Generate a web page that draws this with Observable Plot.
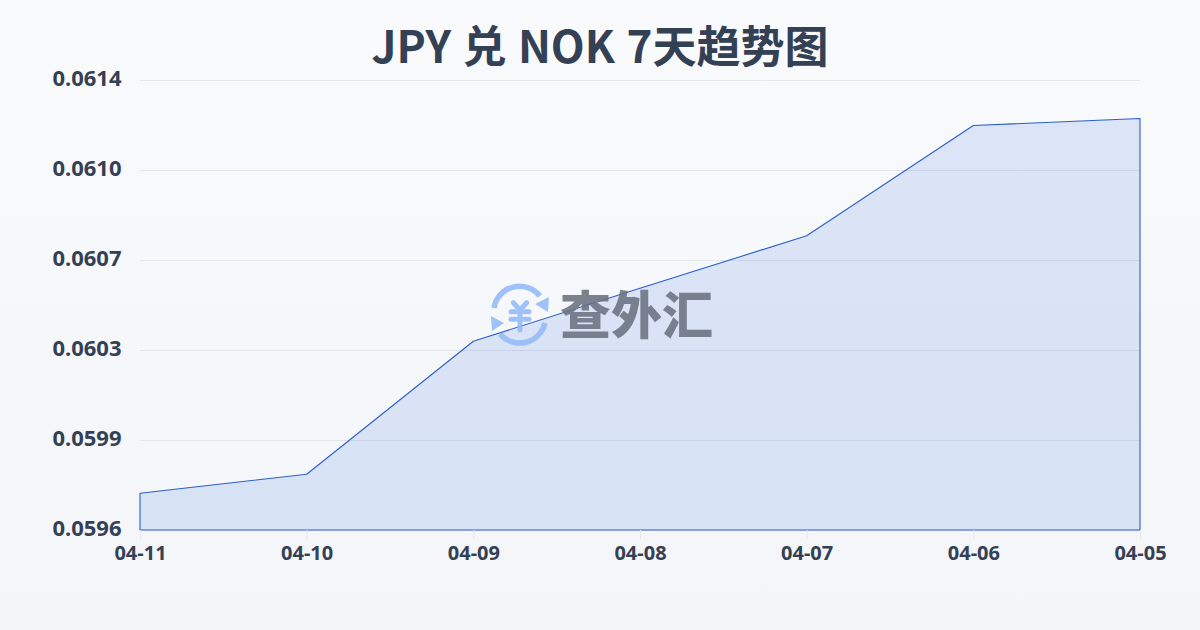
<!DOCTYPE html>
<html lang="zh">
<head>
<meta charset="utf-8">
<script src="https://cdn.jsdelivr.net/npm/d3@7"></script>
<script src="https://cdn.jsdelivr.net/npm/@observablehq/plot@0.6"></script>
<style>
html,body{margin:0;padding:0;width:1200px;height:630px;overflow:hidden}
body{background:linear-gradient(180deg,#f9fafc 0%,#f3f5f8 100%);position:relative;font-family:"Noto Sans","Noto Sans CJK SC",sans-serif}
h1{margin:0;height:60px;width:1200px;text-align:center;font-family:"Noto Sans CJK SC",sans-serif;font-size:44px;word-spacing:1.5px;line-height:88px;font-weight:700;color:#344054;position:absolute;top:0;left:0;z-index:2}
#wm{position:absolute;left:488px;top:282px;width:230px;height:70px;z-index:3;overflow:visible;opacity:.88}
#chart{position:absolute;left:0;top:60px;z-index:1}
#chart svg{background:transparent;display:block}
</style>
</head>
<body>
<h1>JPY 兑 NOK 7天趋势图</h1>
<svg id="wm" viewBox="0 0 230 70" xmlns="http://www.w3.org/2000/svg">
  <g fill="none" stroke="#93bbf7" stroke-width="5.5">
    <path d="M6 26 A26 26 0 0 1 52 14"/>
    <path d="M57 41 A26 26 0 0 1 12 52"/>
  </g>
  <g fill="#93bbf7">
    <path d="M60 30 L61 15 L47 22 Z"/>
    <path d="M3 34 L16 41 L4 49 Z"/>
  </g>
  <g fill="none" stroke="#93bbf7" stroke-width="5" stroke-linecap="round" stroke-linejoin="round">
    <path d="M25.3 20.7 L32 28 L38.7 20.7 M23 29.7 H41 M23 37.3 H41 M32 28 V48"/>
  </g>
  <text x="72" y="52" font-family="Noto Sans CJK SC" font-weight="900" font-size="51" fill="#6b7280">查外汇</text>
</svg>
<div id="chart"></div>
<script>
const dates = ["04-11","04-10","04-09","04-08","04-07","04-06","04-05"];
const rates = [0.059727,0.059803,0.060335,0.060547,0.060757,0.061198,0.061226];
const yTicks = [0.05958,0.05994,0.0603,0.06066,0.06102,0.06138];
const data = dates.map((d,i)=>({d,v:rates[i]}));
const textColor = "#344054";
const plot = Plot.plot({
  width:1200,height:570,
  marginLeft:140,marginRight:60,marginTop:20,marginBottom:100,
  style:{background:"transparent",fontFamily:'"Noto Sans","Noto Sans CJK SC",sans-serif'},
  x:{type:"point",domain:dates,padding:0,round:false,label:null},
  y:{domain:[yTicks[0],yTicks[yTicks.length-1]],label:null},
  marks:[
    Plot.gridY(yTicks,{stroke:"#e3e6eb",strokeOpacity:1,strokeWidth:1}),
    Plot.areaY(data,{x:"d",y:"v",y1:yTicks[0],fill:"#2f6be0",fillOpacity:0.14,stroke:"#2b5fc8",strokeWidth:1.1,curve:"linear"}),
    Plot.axisY(yTicks,{tickSize:0,tickPadding:19,dy:-2,tickFormat:v=>v.toFixed(4),fontSize:22,fontWeight:700,fill:textColor,label:null,anchor:"left"}),
    Plot.axisX({tickSize:9,tickPadding:6,stroke:"#e3e6eb",fontSize:20,fontWeight:700,fill:textColor,label:null})
  ]
});
document.getElementById("chart").appendChild(plot);
</script>
</body>
</html>
